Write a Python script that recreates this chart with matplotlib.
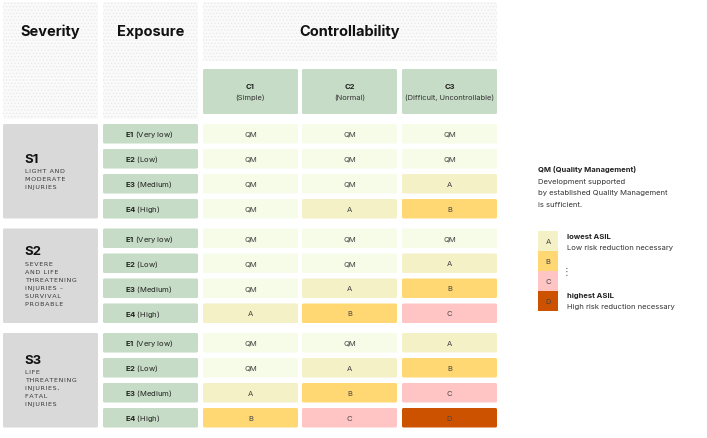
import matplotlib.pyplot as plt
from matplotlib.patches import FancyBboxPatch

plt.rcParams['font.family'] = ['Inter', 'DejaVu Sans']
plt.rcParams['mathtext.fontset'] = 'custom'
plt.rcParams['mathtext.rm'] = 'Inter'
plt.rcParams['mathtext.bf'] = 'Inter:bold'
plt.rcParams['hatch.linewidth'] = 0.5

# --- data ---
severity_codes = ['S1', 'S2', 'S3']
severity_desc = [
    ['LIGHT AND', 'MODERATE', 'INJURIES'],
    ['SEVERE', 'AND LIFE', 'THREATENING', 'INJURIES –', 'SURVIVAL', 'PROBABLE'],
    ['LIFE', 'THREATENING', 'INJURIES,', 'FATAL', 'INJURIES'],
]
exposure_codes = ['E1', 'E2', 'E3', 'E4']
exposure_names = ['(Very low)', '(Low)', '(Medium)', '(High)']
control_codes = ['C1', 'C2', 'C3']
control_names = ['(Simple)', '(Normal)', '(Difficult, Uncontrollable)']
asil = [
    [['QM', 'QM', 'QM'], ['QM', 'QM', 'QM'], ['QM', 'QM', 'A'], ['QM', 'A', 'B']],
    [['QM', 'QM', 'QM'], ['QM', 'QM', 'A'], ['QM', 'A', 'B'], ['A', 'B', 'C']],
    [['QM', 'QM', 'A'], ['QM', 'A', 'B'], ['A', 'B', 'C'], ['B', 'C', 'D']],
]
asil_colors = {'QM': '#f7fce8', 'A': '#f4f1c6', 'B': '#ffd873',
               'C': '#ffc5c5', 'D': '#cc5200'}
green = '#c6dcc6'
grey = '#d9d9d9'
dots = '#fafafa'

fig = plt.figure(figsize=(7.07, 4.39), dpi=100)
ax = fig.add_axes([0, 0, 1, 1])
ax.set_xlim(0, 707)
ax.set_ylim(439, 0)
ax.axis('off')


def box(x, y, w, h, color, hatch=None):
    p = FancyBboxPatch((x, y), w, h, boxstyle='round,pad=0,rounding_size=1.5',
                       fc=color, ec='#e8e8e8' if hatch else 'none',
                       lw=0, hatch=hatch)
    ax.add_patch(p)


def spaced(s):
    # widen the small caps lines a little, like the original letter spacing
    return '\u200a'.join(s)


col_w = 95
sev_x, exp_x = 3, 103
ctrl_x = [203, 302, 402]
row_h = 19.5

# header blocks (dotted)
box(sev_x, 3, col_w, 117, dots, hatch='.....')
box(exp_x, 3, col_w, 117, dots, hatch='.....')
box(203, 3, 294, 59, dots, hatch='.....')
ax.text(sev_x + col_w / 2, 32, 'Severity', ha='center', va='center',
        fontsize=10.5, fontweight='bold', color='#111111')
ax.text(exp_x + col_w / 2, 32, 'Exposure', ha='center', va='center',
        fontsize=10.5, fontweight='bold', color='#111111')
ax.text(350, 32, 'Controllability', ha='center', va='center',
        fontsize=10.5, fontweight='bold', color='#111111')

for cx, code, name in zip(ctrl_x, control_codes, control_names):
    box(cx, 70, col_w, 45, green)
    ax.text(cx + col_w / 2, 87, code, ha='center', va='center',
            fontsize=5.5, fontweight='bold', color='#222222')
    ax.text(cx + col_w / 2, 97.5, name, ha='center', va='center',
            fontsize=5.4, color='#333333')

# body
for g, scode in enumerate(severity_codes):
    top = 125 + g * 104.5
    box(sev_x, top, col_w, 75 + row_h, grey)
    desc = severity_desc[g]
    mid = top + (75 + row_h) / 2
    sy = mid - (12 + (len(desc) - 1) * 8) / 2 + 1.5
    ax.text(24, sy, scode, ha='left', va='center', fontsize=9.5,
            fontweight='bold', color='#111111')
    for k, line in enumerate(desc):
        ax.text(25, sy + 12 + k * 8, spaced(line), ha='left', va='center',
                fontsize=4.6, family='DejaVu Sans', color='#3a3a3a')
    for r in range(4):
        y = top + r * 25
        box(exp_x, y, col_w, row_h, green)
        ax.text(125, y + row_h / 2,
                r'$\mathbf{' + exposure_codes[r] + '}$ ' + exposure_names[r],
                ha='left', va='center', fontsize=5.5, color='#222222')
        for c, cx in enumerate(ctrl_x):
            v = asil[g][r][c]
            box(cx, y, col_w, row_h, asil_colors[v])
            ax.text(cx + col_w / 2, y + row_h / 2, v, ha='center', va='center',
                    fontsize=5.5, color='#444444')

# legend
ax.text(538, 170, 'QM (Quality Management)', ha='left', va='center',
        fontsize=5.5, fontweight='bold', color='#222222')
for k, line in enumerate(['Development supported',
                          'by established Quality Management',
                          'is sufficient.']):
    ax.text(538, 182 + k * 11.3, line, ha='left', va='center',
            fontsize=5.5, color='#333333')

for k, lvl in enumerate(['A', 'B', 'C', 'D']):
    y = 232 + k * 20
    ax.add_patch(plt.Rectangle((538, y), 20, 20, fc=asil_colors[lvl], ec='none'))
    ax.text(548, y + 10, lvl, ha='center', va='center', fontsize=5.5,
            color='#444444')

ax.text(567, 237, 'lowest ASIL', ha='left', va='center', fontsize=5.5,
        fontweight='bold', color='#222222')
ax.text(567, 248, 'Low risk reduction necessary', ha='left', va='center',
        fontsize=5.5, color='#333333')
ax.text(567, 272, '⋮', ha='center', va='center', fontsize=7,
        family='DejaVu Sans', color='#555555')
ax.text(567, 296, 'highest ASIL', ha='left', va='center', fontsize=5.5,
        fontweight='bold', color='#222222')
ax.text(567, 307, 'High risk reduction necessary', ha='left', va='center',
        fontsize=5.5, color='#333333')

fig.savefig('out.png', dpi=100, facecolor='white')
